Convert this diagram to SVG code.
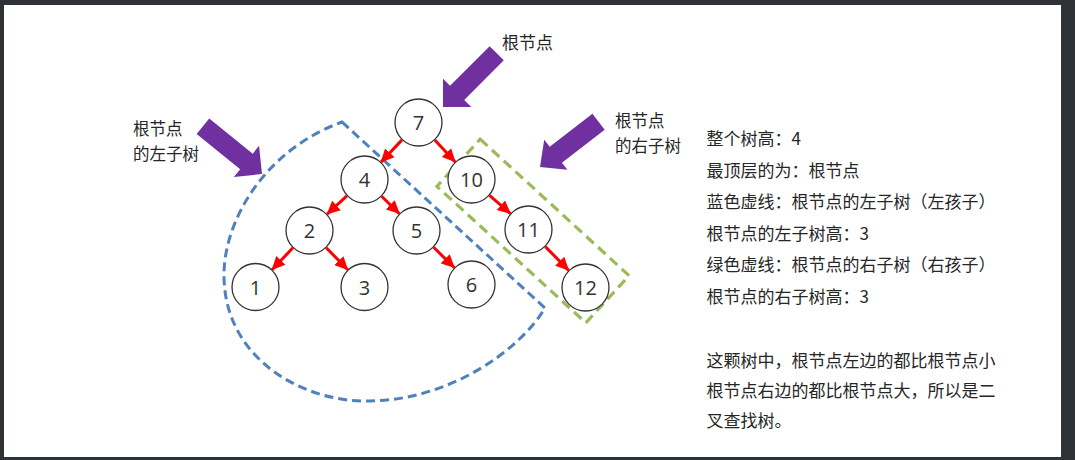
<svg xmlns="http://www.w3.org/2000/svg" width="1075" height="460" viewBox="0 0 1075 460">
<style>
.bg{fill:#ffffff}
.frame{fill:#2f3338}
.node circle{fill:#ffffff;stroke:#333333;stroke-width:1.3}
.node text{font-family:"Open Sans","Noto Sans",sans-serif;font-size:20px;fill:#333333;text-anchor:middle}
.edge{stroke:#ff0000;stroke-width:3;fill:none;marker-end:url(#redhead)}
.big{fill:#7030a0}
.lbl{font-family:"Noto Sans CJK SC","Noto Sans",sans-serif;font-size:17px;fill:#262626}
.tag{font-family:"Noto Sans CJK SC","Noto Sans",sans-serif;font-size:16.5px;fill:#262626}
.blue{fill:none;stroke:#4f81bd;stroke-width:3;stroke-dasharray:9 5}
.green{fill:none;stroke:#9bbb59;stroke-width:3.2;stroke-dasharray:10 6}
</style>
<defs>
<marker id="redhead" markerUnits="userSpaceOnUse" markerWidth="14" markerHeight="14" viewBox="0 0 12 12" refX="11" refY="6" orient="auto">
<path d="M0,0.5 L11.5,6 L0,11.5 Z" fill="#ff0000"/>
</marker>
<polygon id="bigL76" points="0,0 20,-20 20,-10 76,-10 76,10 20,10 20,20"/>
<polygon id="bigL74" points="0,0 20,-19 20,-10 74,-10 74,10 20,10 20,19"/>
</defs>
<rect class="frame" x="0" y="0" width="1075" height="460"/>
<rect class="bg" x="4" y="5" width="1057" height="452"/>

<g id="regions">
<path class="blue" d="M342,122 L545,308 C520,350 450,400 370,401 C305,403 224,360 224,275 C224,220 265,150 342,122 Z"/>
<rect class="green" x="432" y="199" width="202" height="64" transform="rotate(42.5 533 231)"/>
</g>

<g id="pointers">
<use href="#bigL76" class="big" transform="translate(443,107) rotate(-45)"/>
<use href="#bigL76" class="big" transform="translate(262,174) rotate(219)"/>
<use href="#bigL74" class="big" transform="translate(540,167) rotate(-37.7)"/>
</g>

<g id="connectors">
<line class="edge" x1="402" y1="139.9" x2="381" y2="162.1"/>
<line class="edge" x1="434.8" y1="140.1" x2="455.2" y2="161.9"/>
<line class="edge" x1="346.9" y1="195.8" x2="327.1" y2="214.2"/>
<line class="edge" x1="381.6" y1="196.3" x2="399.4" y2="213.7"/>
<line class="edge" x1="489.5" y1="195.3" x2="510.5" y2="213.7"/>
<line class="edge" x1="292.9" y1="247.8" x2="272.1" y2="269.7"/>
<line class="edge" x1="326.2" y1="247.7" x2="347.8" y2="269.8"/>
<line class="edge" x1="433.6" y1="247.3" x2="454.4" y2="267.7"/>
<line class="edge" x1="545.3" y1="246.6" x2="568.7" y2="270.4"/>
</g>

<g id="n7" class="node"><circle cx="418.5" cy="122.5" r="23.5"/><text x="418.5" y="130">7</text></g>
<g id="n4" class="node"><circle cx="364.5" cy="179.5" r="23.5"/><text x="364.5" y="187">4</text></g>
<g id="n10" class="node"><circle cx="471.5" cy="179.5" r="23.5"/><text x="471.5" y="187">10</text></g>
<g id="n2" class="node"><circle cx="309.5" cy="230.5" r="23.5"/><text x="309.5" y="238">2</text></g>
<g id="n5" class="node"><circle cx="416.5" cy="230.5" r="23.5"/><text x="416.5" y="238">5</text></g>
<g id="n11" class="node"><circle cx="528.5" cy="229.5" r="23.5"/><text x="528.5" y="237">11</text></g>
<g id="n1" class="node"><circle cx="255.5" cy="287" r="23.5"/><text x="255.5" y="294.5">1</text></g>
<g id="n3" class="node"><circle cx="364.5" cy="287" r="23.5"/><text x="364.5" y="294.5">3</text></g>
<g id="n6" class="node"><circle cx="471.5" cy="284.5" r="23.5"/><text x="471.5" y="292">6</text></g>
<g id="n12" class="node"><circle cx="585.5" cy="287.5" r="23.5"/><text x="585.5" y="295">12</text></g>

<g id="labels">
<text class="lbl" x="502" y="48.5">根节点</text>
<text class="tag" x="133" y="135">根节点</text>
<text class="tag" x="133" y="159.5">的左子树</text>
<text class="tag" x="615" y="127">根节点</text>
<text class="tag" x="615" y="151.5">的右子树</text>
</g>

<g id="notes">
<text class="lbl" x="706.5" y="145">整个树高：4</text>
<text class="lbl" x="706.5" y="176.5">最顶层的为：根节点</text>
<text class="lbl" x="706.5" y="208">蓝色虚线：根节点的左子树（左孩子）</text>
<text class="lbl" x="706.5" y="239.5">根节点的左子树高：3</text>
<text class="lbl" x="706.5" y="271">绿色虚线：根节点的右子树（右孩子）</text>
<text class="lbl" x="706.5" y="302.5">根节点的右子树高：3</text>
<text class="lbl" x="706.5" y="366.5">这颗树中，根节点左边的都比根节点小</text>
<text class="lbl" x="706.5" y="397">根节点右边的都比根节点大，所以是二</text>
<text class="lbl" x="706.5" y="427">叉查找树。</text>
</g>
</svg>
